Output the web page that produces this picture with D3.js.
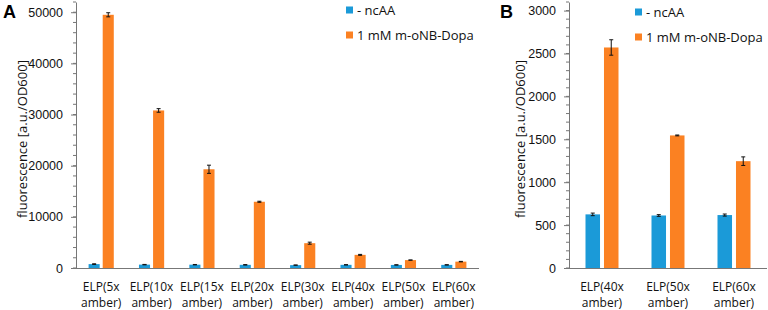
<!DOCTYPE html>
<html>
<head>
<meta charset="utf-8">
<script src="https://cdn.jsdelivr.net/npm/d3@7"></script>
<style>
  body { margin: 0; background: #fff; }
  svg { display: block; font-family: "Open Sans", sans-serif; }
  .tick text { font-size: 12.5px; fill: #111; }
</style>
</head>
<body>
<svg id="chart" width="768" height="310"></svg>
<script>
// ---------- Data ----------
const SERIES = ["- ncAA", "1 mM m-oNB-Dopa"];
const COLORS = ["#1b9ad8", "#fb8122"];

// panel A
const catsA = ["5x", "10x", "15x", "20x", "30x", "40x", "50x", "60x"];
const ncaaA = [760, 660, 650, 620, 560, 620, 600, 610];
const ncaaErrA = [60, 40, 40, 40, 30, 30, 30, 30];
const dopaA = [49500, 30800, 19300, 12950, 4850, 2570, 1545, 1245];
const dopaErrA = [400, 350, 800, 100, 200, 90, 20, 50];
const ticksA = [0, 10000, 20000, 30000, 40000, 50000];

// panel B
const catsB = ["40x", "50x", "60x"];
const ncaaB = [625, 612, 617];
const ncaaErrB = [15, 10, 12];
const dopaB = [2570, 1545, 1245];
const dopaErrB = [90, 5, 50];
const ticksB = [0, 500, 1000, 1500, 2000, 2500, 3000];

const svg = d3.select("#chart");

function drawPanel(o) {
  const g = svg.append("g");
  const y = d3.scaleLinear().domain([0, o.yMax]).range([268, 2]);
  const x = d3.scaleBand().domain(o.cats).range([o.x0, o.x1]);
  const bw = x.bandwidth() * 0.22;
  const gap = x.bandwidth() * 0.06;

  // minor ticks
  g.selectAll("line.minor")
    .data(d3.range(0, o.yMax + 1e-6, o.minor))
    .join("line")
    .attr("x1", o.x0 - 3).attr("x2", o.x0)
    .attr("y1", d => y(d)).attr("y2", d => y(d))
    .attr("stroke", "#777").attr("stroke-width", 1);

  const yAxis = g.append("g")
    .attr("transform", `translate(${o.x0},0)`)
    .call(d3.axisLeft(y).tickValues(o.ticks).tickSize(5).tickPadding(8).tickSizeOuter(0)
      .tickFormat(d3.format("d")));
  yAxis.select(".domain").attr("stroke", "#777");
  yAxis.selectAll(".tick line").attr("stroke", "#777");

  // bars
  const rows = o.cats.map((c, i) => [
    { c, s: 0, v: o.ncaa[i], e: o.ncaaErr[i] },
    { c, s: 1, v: o.dopa[i], e: o.dopaErr[i] }
  ]).flat();
  const bx = d => x(d.c) + x.bandwidth() / 2 + (d.s === 0 ? -gap / 2 - bw : gap / 2);

  g.selectAll("rect.bar")
    .data(rows)
    .join("rect")
    .attr("x", bx)
    .attr("y", d => y(d.v))
    .attr("width", bw)
    .attr("height", d => y(0) - y(d.v))
    .attr("fill", d => COLORS[d.s]);

  // error bars
  const eb = g.selectAll("g.err").data(rows).join("g")
    .attr("stroke", "#111").attr("stroke-width", 1);
  const cx = d => bx(d) + bw / 2;
  eb.append("line")
    .attr("x1", cx).attr("x2", cx)
    .attr("y1", d => y(d.v + d.e)).attr("y2", d => y(d.v - d.e));
  [1, -1].forEach(sg => {
    eb.append("line")
      .attr("x1", d => cx(d) - 2).attr("x2", d => cx(d) + 2)
      .attr("y1", d => y(d.v + sg * d.e)).attr("y2", d => y(d.v + sg * d.e));
  });

  // x axis line
  g.append("line")
    .attr("x1", o.x0).attr("x2", o.x1)
    .attr("y1", y(0) + 0.5).attr("y2", y(0) + 0.5)
    .attr("stroke", "#777");

  // x labels
  const lab = g.selectAll("text.xl").data(o.cats).join("text")
    .attr("text-anchor", "middle")
    .attr("font-size", 12).attr("fill", "#111")
    .attr("x", d => x(d) + x.bandwidth() / 2);
  lab.append("tspan").attr("x", d => x(d) + x.bandwidth() / 2).attr("y", 291)
    .text(d => `ELP(${d}`);
  lab.append("tspan").attr("x", d => x(d) + x.bandwidth() / 2).attr("y", 307)
    .text("amber)");

  // y title
  g.append("text")
    .attr("transform", `translate(${o.titleX},${139}) rotate(-90)`)
    .attr("text-anchor", "middle")
    .attr("font-size", 13).attr("fill", "#111")
    .text("fluorescence [a.u./OD600]");

  // legend
  SERIES.forEach((s, i) => {
    const ly = o.legY + i * 25;
    g.append("rect")
      .attr("x", o.legX).attr("y", ly - 3.5)
      .attr("width", 7).attr("height", 7)
      .attr("fill", COLORS[i]);
    g.append("text")
      .attr("x", o.legX + 11).attr("y", ly)
      .attr("dy", "0.35em")
      .attr("font-size", 13).attr("fill", "#111")
      .text(s);
  });

  // panel letter
  g.append("text")
    .attr("x", o.letterX).attr("y", 18)
    .attr("font-family", "Liberation Sans, Arial, sans-serif")
    .attr("font-weight", "bold").attr("font-size", 18)
    .text(o.letter);
}

drawPanel({
  letter: "A", letterX: 3, cats: catsA, ncaa: ncaaA, ncaaErr: ncaaErrA,
  dopa: dopaA, dopaErr: dopaErrA, ticks: ticksA, yMax: 52000, minor: 2000,
  x0: 76, x1: 479, titleX: 27, legX: 346, legY: 10
});
drawPanel({
  letter: "B", letterX: 500, cats: catsB, ncaa: ncaaB, ncaaErr: ncaaErrB,
  dopa: dopaB, dopaErr: dopaErrB, ticks: ticksB, yMax: 3100, minor: 100,
  x0: 569, x1: 767, titleX: 525, legX: 635, legY: 12
});
</script>
</body>
</html>
